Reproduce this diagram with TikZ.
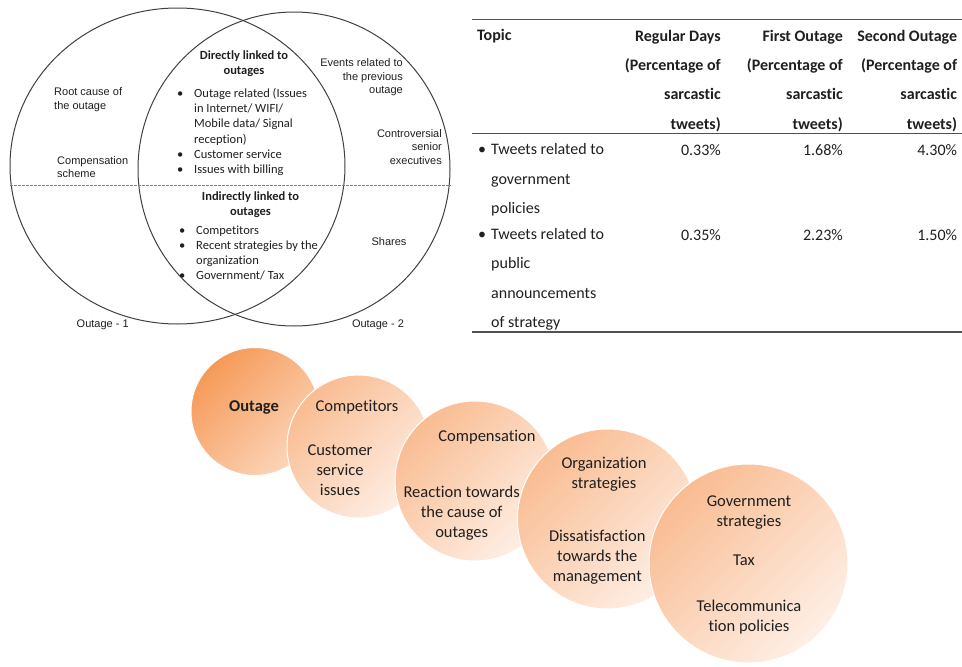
\documentclass[tikz,border=0pt]{standalone}
\usepackage{fontspec}
\setmainfont{Carlito}[Ligatures=NoCommon]
\newfontfamily\arialf{Liberation Sans}
\usepackage{array}
\definecolor{txt}{HTML}{1F1F1F}
\definecolor{vennline}{HTML}{404040}
\definecolor{rulec}{HTML}{505050}
\definecolor{oAa}{HTML}{F59A58}
\definecolor{oAb}{HTML}{FCD6BC}
\definecolor{oBa}{HTML}{F9BC92}
\definecolor{oBb}{HTML}{FEEFE6}
\tikzset{
  arl/.style={font=\arialf\fontsize{11}{13.4}\selectfont, text=txt, inner sep=0pt},
  vc/.style={font=\fontsize{12.5}{15.1}\selectfont, text=txt, inner sep=0pt},
  vcb/.style={font=\fontsize{12.5}{15.1}\selectfont\bfseries, text=txt, inner sep=0pt, align=center},
  tb/.style={font=\fontsize{16}{29.3}\selectfont, text=txt, inner sep=0pt},
  tbb/.style={font=\fontsize{16}{29.3}\selectfont\bfseries, text=txt, inner sep=0pt},
  ct/.style={font=\fontsize{16.5}{20}\selectfont, text=txt, inner sep=0pt, align=center},
  vennc/.style={draw=vennline, line width=1pt},
  tabrule/.style={draw=rulec, line width=#1},
  bubbleA/.style={circle, draw=white, line width=1pt, inner sep=0pt, minimum size=#1,
    top color=oAa, bottom color=oAb, shading angle=45},
  bubbleB/.style={circle, draw=white, line width=1pt, inner sep=0pt, minimum size=#1,
    top color=oBa, bottom color=oBb, shading angle=45},
}
\begin{document}
\begin{tikzpicture}[x=1pt,y=-1pt]
\useasboundingbox (0,0) rectangle (962,667);
% ---------------- Venn diagram ----------------
\draw[vennc] (177.5,166) ellipse [x radius=167.5, y radius=158];
\draw[vennc] (294,169) ellipse [x radius=156, y radius=157];
\coordinate (dl) at (10,185);
\coordinate (dr) at (451,185);
\draw[gray, line width=0.6pt, dash pattern=on 2.5pt off 1.5pt] (dl) -- (dr);

\node[arl, align=left, anchor=west] (root) at (54,99.5) {Root cause of\\the outage};
\node[arl, align=left, anchor=west] (comp) at (57,167) {Compensation\\scheme};
\node[arl, align=right, anchor=east] (events) at (403,77.5) {Events related to\\the previous\\outage};
\node[arl, align=right, anchor=east] (contro) at (442,147) {Controversial\\senior\\executives};
\node[arl] (shares) at (389,241.5) {Shares};
\node[arl] (o1) at (102.7,324.3) {Outage - 1};
\node[arl] (o2) at (378,324.3) {Outage - 2};

\node[vcb] (dlink) at (244,63.5) {Directly linked to\\outages};
\node[vc, anchor=west] (blist1) at (177,132.5) {\begin{tabular}{@{}p{17pt}@{}l@{}}
\textbullet & Outage related (Issues\\
 & in Internet/ WIFI/\\
 & Mobile data/ Signal\\
 & reception)\\
\textbullet & Customer service\\
\textbullet & Issues with billing
\end{tabular}};
\node[vcb] (ilink) at (250.5,204.5) {Indirectly linked to\\outages};
\node[vc, anchor=west] (blist2) at (179,254) {\begin{tabular}{@{}p{17pt}@{}l@{}}
\textbullet & Competitors\\
\textbullet & Recent strategies by the\\
 & organization\\
\textbullet & Government/ Tax
\end{tabular}};

% ---------------- Table ----------------
\coordinate (t1a) at (472,19.3);  \coordinate (t1b) at (962,19.3);
\coordinate (t2a) at (472,133.3); \coordinate (t2b) at (962,133.3);
\coordinate (t3a) at (472,331.7); \coordinate (t3b) at (962,331.7);
\draw[tabrule=1.2pt] (t1a) -- (t1b);
\draw[tabrule=1.2pt] (t2a) -- (t2b);
\draw[tabrule=1.8pt] (t3a) -- (t3b);

\node[tbb, anchor=west] (topic) at (477,36.5) {Topic};
\node[tbb, align=right, anchor=east] (hreg) at (721,80.7) {Regular Days\\(Percentage of\\sarcastic\\tweets)};
\node[tbb, align=right, anchor=east] (hfirst) at (843,80.7) {First Outage\\(Percentage of\\sarcastic\\tweets)};
\node[tbb, align=right, anchor=east] (hsecond) at (957.3,80.7) {Second Outage\\(Percentage of\\sarcastic\\tweets)};

\node[tb, anchor=west] (row1) at (478,178.3) {\begin{tabular}{@{}p{13pt}@{}l@{}}
\textbullet & Tweets related to\\
 & government\\
 & policies
\end{tabular}};
\node[tb, anchor=west] (row2) at (478,277.7) {\begin{tabular}{@{}p{13pt}@{}l@{}}
\textbullet & Tweets related to\\
 & public\\
 & announcements\\
 & of strategy
\end{tabular}};
\node[tb, anchor=east] (v11) at (721,150) {0.33\%};
\node[tb, anchor=east] (v12) at (843,150) {1.68\%};
\node[tb, anchor=east] (v13) at (957.3,150) {4.30\%};
\node[tb, anchor=east] (v21) at (721,235) {0.35\%};
\node[tb, anchor=east] (v22) at (843,235) {2.23\%};
\node[tb, anchor=east] (v23) at (957.3,235) {1.50\%};

% ---------------- Bubbles ----------------
\node[bubbleA=128pt] (c1) at (255,411.5) {};
\node[bubbleB=143pt] (c2) at (358.5,446.5) {};
\node[bubbleB=160pt] (c3) at (475,481) {};
\node[bubbleB=180pt] (c4) at (607.5,519) {};
\node[bubbleB=199pt] (c5) at (748.5,563.5) {};

\node[ct, font=\fontsize{16.5}{20}\selectfont\bfseries] (t1) at (254,407) {Outage};
\node[ct] (t2a) at (357,407) {Competitors};
\node[ct] (t2b) at (340,470) {Customer\\service\\issues};
\node[ct] (t3a) at (487,436.7) {Compensation};
\node[ct] (t3b) at (461.7,512.7) {Reaction towards\\the cause of\\outages};
\node[ct] (t4a) at (604,474.5) {Organization\\strategies};
\node[ct] (t4b) at (597.3,557.3) {Dissatisfaction\\towards the\\management};
\node[ct] (t5a) at (749,512.7) {Government\\strategies};
\node[ct] (t5b) at (744,560) {Tax};
\node[ct] (t5c) at (749,617) {Telecommunica\\tion policies};
\end{tikzpicture}
\end{document}
